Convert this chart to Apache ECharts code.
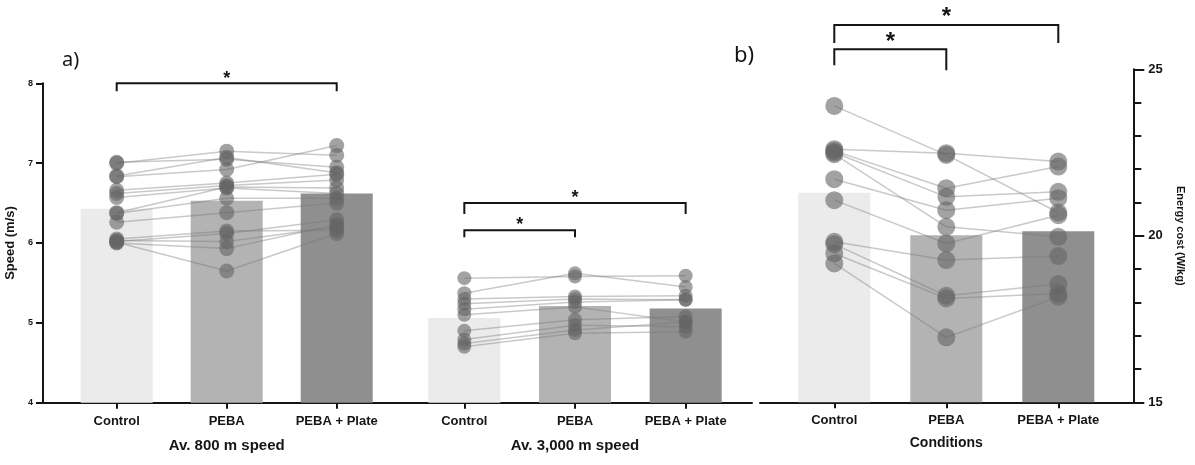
<!DOCTYPE html>
<html>
<head>
<meta charset="utf-8">
<script src="https://cdn.jsdelivr.net/npm/echarts@6/dist/echarts.min.js"></script>
<style>
  html, body { margin: 0; padding: 0; background: #fff; }
  #main { width: 1195px; height: 465px; }
</style>
</head>
<body>
<div id="main"></div>
<script>
// categories
var cats = ['Control', 'PEBA', 'PEBA + Plate'];

// bar heights (group means)
var speed800Mean = [6.43, 6.53, 6.62];
var speed3000Mean = [5.06, 5.21, 5.18];
var energyMean = [21.29, 20.02, 20.14];

// one row per runner: [Control, PEBA, PEBA + Plate]
var speed800 = [
  [7.01, 7.05, 6.95],
  [7.00, 7.15, 7.10],
  [6.84, 7.07, 6.88],
  [6.83, 6.92, 7.22],
  [6.66, 6.75, 6.86],
  [6.62, 6.72, 6.79],
  [6.57, 6.69, 6.62],
  [6.38, 6.70, 6.69],
  [6.37, 6.56, 6.56],
  [6.26, 6.38, 6.50],
  [6.05, 6.15, 6.16],
  [6.02, 6.12, 6.29],
  [6.03, 6.02, 6.20],
  [6.00, 5.93, 6.23],
  [6.01, 5.65, 6.12]
];
var speed3000 = [
  [5.56, 5.58, 5.59],
  [5.37, 5.62, 5.45],
  [5.30, 5.33, 5.34],
  [5.24, 5.30, 5.29],
  [5.17, 5.26, 5.29],
  [5.10, 5.20, 5.01],
  [4.90, 5.04, 5.08],
  [4.79, 4.97, 4.95],
  [4.74, 4.91, 5.01],
  [4.70, 4.87, 4.89]
];
var energy = [
  [23.90, 22.43, 20.70],
  [22.60, 22.48, 22.23],
  [22.55, 21.43, 22.08],
  [22.50, 21.17, 21.32],
  [22.45, 20.27, 19.97],
  [21.70, 20.77, 21.13],
  [21.07, 19.77, 20.62],
  [19.82, 19.27, 19.39],
  [19.75, 18.20, 18.55],
  [19.47, 18.12, 18.27],
  [19.17, 16.95, 18.17]
];

var barColors = ['#ebebeb', '#b3b3b3', '#8f8f8f'];
var ink = '#151515';
var font = 'Liberation Sans';

// significance brackets: axis index, from/to category, level in axis units
var brackets = [
  { axis: 1, from: 0, to: 2, level: 8.0, drop: [8, 8], star: 18, gap: 8 },
  { axis: 2, from: 0, to: 2, level: 6.5, drop: [11, 11], star: 18, gap: 9 },
  { axis: 2, from: 0, to: 1, level: 6.16, drop: [7, 7], star: 18, gap: 9 },
  { axis: 4, from: 0, to: 2, level: 26.33, drop: [18, 18], star: 24, gap: 12 },
  { axis: 4, from: 0, to: 1, level: 25.6, drop: [16, 21], star: 24, gap: 12 }
];

function groupSeries(gi, means, subjects, dot) {
  var out = [{
    type: 'bar',
    xAxisIndex: gi, yAxisIndex: gi,
    barWidth: 72,
    data: means.map(function (v, i) {
      return { value: v, itemStyle: { color: barColors[i] } };
    }),
    silent: true
  }];
  subjects.forEach(function (s) {
    out.push({
      type: 'line',
      xAxisIndex: gi, yAxisIndex: gi,
      data: s,
      symbol: 'circle',
      symbolSize: dot,
      showAllSymbol: true,
      lineStyle: { color: 'rgba(120,120,120,0.4)', width: 1.5 },
      itemStyle: { color: 'rgba(100,100,100,0.6)', borderWidth: 0 },
      silent: true
    });
  });
  return out;
}

function catAxis(gi, name, gap) {
  return {
    type: 'category', gridIndex: gi, data: cats,
    axisLine: { show: false },
    axisTick: { show: true, alignWithLabel: true, length: 6, lineStyle: { color: ink, width: 2 } },
    axisLabel: { color: ink, fontSize: 13, fontWeight: 'bold', fontFamily: font, margin: 12 },
    name: name, nameLocation: 'middle', nameGap: gap,
    nameTextStyle: { color: ink, fontSize: 15, fontWeight: 'bold', fontFamily: font }
  };
}

function frameX(gi) {
  return {
    type: 'category', gridIndex: gi, data: [''],
    axisLine: { lineStyle: { color: ink, width: 2 } },
    axisTick: { show: false }, axisLabel: { show: false }
  };
}

function hiddenY(gi, min, max) {
  return { type: 'value', gridIndex: gi, min: min, max: max, show: false };
}

var gridBase = { outerBoundsMode: 'none', containLabel: false };
var topA = 83.3, hA = 319.4, topB = 69.3, hB = 333;

var option = {
  animation: false,
  backgroundColor: '#fff',
  grid: [
    Object.assign({ left: 43, top: topA, width: 709, height: hA }, gridBase),
    Object.assign({ left: 61.7, top: topA, width: 330, height: hA }, gridBase),
    Object.assign({ left: 409, top: topA, width: 332, height: hA }, gridBase),
    Object.assign({ left: 760, top: topB, width: 373.3, height: hB }, gridBase),
    Object.assign({ left: 778.3, top: topB, width: 336, height: hB }, gridBase)
  ],
  xAxis: [
    frameX(0),
    catAxis(1, 'Av. 800 m speed', 36),
    catAxis(2, 'Av. 3,000 m speed', 36),
    frameX(3),
    Object.assign(catAxis(4, 'Conditions', 34), {
      nameTextStyle: { color: ink, fontSize: 14, fontWeight: 'bold', fontFamily: font }
    })
  ],
  yAxis: [
    {
      type: 'value', gridIndex: 0, min: 4, max: 8, interval: 1,
      splitLine: { show: false },
      axisLine: { show: true, lineStyle: { color: ink, width: 2 } },
      axisTick: { show: true, length: 7, lineStyle: { color: ink, width: 2 } },
      axisLabel: { color: ink, fontSize: 9, fontWeight: 'bold', fontFamily: font, margin: 10 },
      name: 'Speed (m/s)', nameLocation: 'middle', nameGap: 18,
      nameTextStyle: { color: ink, fontSize: 13, fontWeight: 'bold', fontFamily: font }
    },
    hiddenY(1, 4, 8),
    hiddenY(2, 4, 8),
    {
      type: 'value', gridIndex: 3, position: 'right', min: 15, max: 25, interval: 5,
      splitLine: { show: false },
      axisLine: { show: true, lineStyle: { color: ink, width: 2 } },
      axisTick: { show: true, length: 11, lineStyle: { color: ink, width: 2 } },
      minorTick: { show: true, splitNumber: 5, length: 8, lineStyle: { color: ink, width: 2 } },
      axisLabel: { color: ink, fontSize: 13, fontWeight: 'bold', fontFamily: font, margin: 15 },
      name: 'Energy cost (W/kg)', nameLocation: 'middle', nameGap: 41, nameRotate: -90,
      nameTextStyle: { color: ink, fontSize: 11, fontWeight: 'bold', fontFamily: font }
    },
    hiddenY(4, 15, 25)
  ],
  series: []
    .concat(groupSeries(1, speed800Mean, speed800, 15))
    .concat(groupSeries(2, speed3000Mean, speed3000, 14))
    .concat(groupSeries(4, energyMean, energy, 18))
};

var chart = echarts.init(document.getElementById('main'), null, { renderer: 'canvas' });
chart.setOption(option);

// brackets and stars placed from axis values
var graphics = [
  { type: 'text', left: 62, top: 50, style: { text: 'a)', font: '20px "Noto Sans"', fill: ink } },
  { type: 'text', left: 734, top: 45, style: { text: 'b)', font: '22px "Noto Sans"', fill: ink } }
];
brackets.forEach(function (b) {
  var p0 = chart.convertToPixel({ xAxisIndex: b.axis, yAxisIndex: b.axis }, [b.from, b.level]);
  var p1 = chart.convertToPixel({ xAxisIndex: b.axis, yAxisIndex: b.axis }, [b.to, b.level]);
  graphics.push({
    type: 'polyline', silent: true,
    shape: { points: [[p0[0], p0[1] + b.drop[0]], p0, p1, [p1[0], p1[1] + b.drop[1]]] },
    style: { stroke: ink, lineWidth: 2, fill: null }
  });
  graphics.push({
    type: 'text', silent: true,
    x: (p0[0] + p1[0]) / 2, y: p0[1] - b.gap + b.star * 0.7,
    style: {
      text: '*', font: 'bold ' + b.star + 'px "' + font + '"', fill: ink,
      align: 'center', verticalAlign: 'bottom', textAlign: 'center', textVerticalAlign: 'bottom'
    }
  });
});
chart.setOption({ graphic: graphics });
</script>
</body>
</html>
